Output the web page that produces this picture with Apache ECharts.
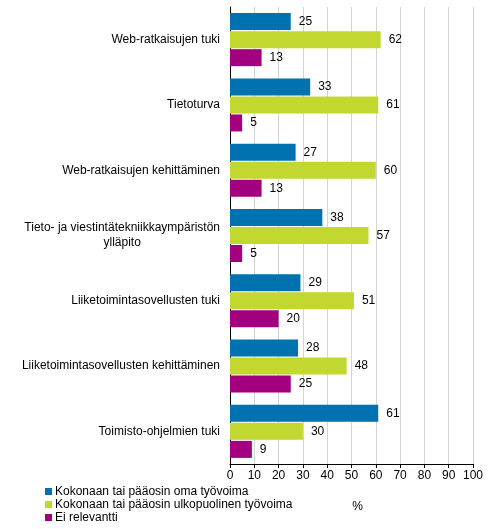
<!DOCTYPE html>
<html>
<head>
<meta charset="utf-8">
<script src="https://cdn.jsdelivr.net/npm/echarts@6/dist/echarts.min.js"></script>
<style>html,body{margin:0;padding:0;background:#fff;}#c{width:491px;height:529px;}</style>
</head>
<body>
<div id="c"></div>
<script>
const categories = [
  "Web-ratkaisujen tuki",
  "Tietoturva",
  "Web-ratkaisujen kehittäminen",
  "Tieto- ja viestintätekniikkaympäristön\nylläpito",
  "Liiketoimintasovellusten tuki",
  "Liiketoimintasovellusten kehittäminen",
  "Toimisto-ohjelmien tuki"
];
const seriesNames = [
  "Kokonaan tai pääosin oma työvoima",
  "Kokonaan tai pääosin ulkopuolinen työvoima",
  "Ei relevantti"
];
const omaValues = [25, 33, 27, 38, 29, 28, 61];
const ulkoValues = [62, 61, 60, 57, 51, 48, 30];
const eiValues = [13, 5, 13, 5, 20, 25, 9];
const colors = ["#0072b0", "#c2d72f", "#a3007f"];
const font = "Liberation Sans, Arial, sans-serif";

const chart = echarts.init(document.getElementById('c'));
function mk(name, data, color) {
  return {
    name, type: 'bar', data,
    barWidth: 17, barGap: '6%',
    itemStyle: { color },
    label: { show: true, position: 'right', distance: 8, color: '#000', fontSize: 12, fontFamily: font }
  };
}
chart.setOption({
  animation: false,
  textStyle: { fontFamily: font },
  grid: { left: 230, right: 18, top: 7, bottom: 65 },
  legend: {
    orient: 'vertical', left: 45, top: 485, padding: 0, height: 44,
    itemWidth: 7, itemHeight: 7, itemGap: 0,
    icon: 'rect',
    textStyle: { fontSize: 12, color: '#000', fontFamily: font, lineHeight: 13, padding: [0, 0, 0, -2] },
    data: seriesNames
  },
  xAxis: {
    type: 'value', min: 0, max: 100, interval: 10,
    name: '%', nameLocation: 'middle', nameGap: 37,
    nameTextStyle: { fontSize: 12, color: '#000', fontFamily: font, padding: [0, 0, 0, 12] },
    axisLine: { show: true, lineStyle: { color: '#000', width: 1 } },
    axisTick: { show: true, length: 4, lineStyle: { color: '#000' } },
    axisLabel: { color: '#000', fontSize: 12, margin: 6, fontFamily: font },
    splitLine: { show: true, lineStyle: { color: '#d4d4d4', width: 1 } }
  },
  yAxis: {
    type: 'category', data: categories, inverse: true,
    axisLine: { show: true, lineStyle: { color: '#000', width: 1 } },
    axisTick: { show: false },
    axisLabel: {
      color: '#000', fontSize: 12, margin: 10, fontFamily: font, lineHeight: 15,
      formatter: function (v) {
        if (v.indexOf('\n') >= 0) {
          const parts = v.split('\n');
          return '{a|' + parts[0] + '}\n{b|' + parts[1] + '}';
        }
        return v;
      },
      rich: {
        a: { fontSize: 12, color: '#000', fontFamily: font, lineHeight: 15 },
        b: { fontSize: 12, color: '#000', fontFamily: font, lineHeight: 15, align: 'center' }
      }
    }
  },
  series: [
    mk(seriesNames[0], omaValues, colors[0]),
    mk(seriesNames[1], ulkoValues, colors[1]),
    mk(seriesNames[2], eiValues, colors[2])
  ]
});
</script>
</body>
</html>
